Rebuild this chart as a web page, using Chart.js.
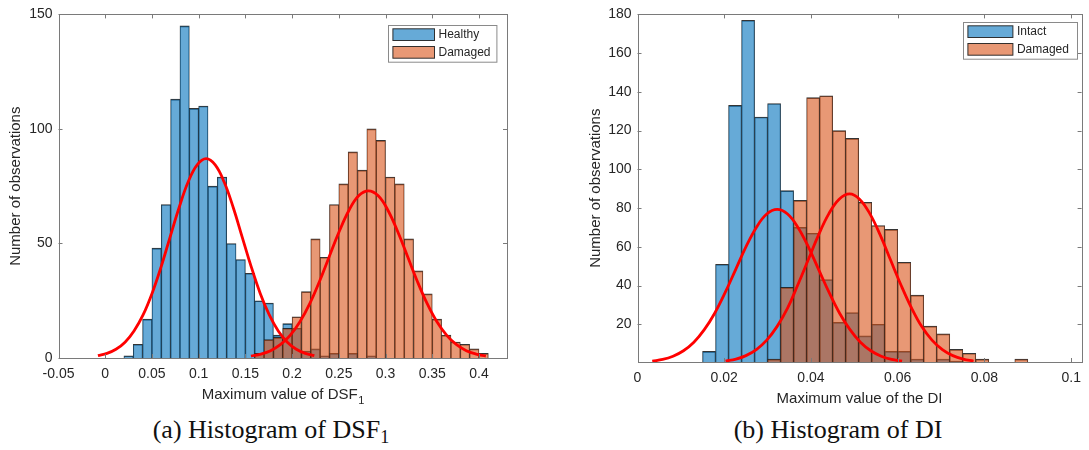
<!DOCTYPE html>
<html><head><meta charset="utf-8">
<script src="https://cdn.jsdelivr.net/npm/chart.js@4.4.1/dist/chart.umd.min.js"></script>
<style>
html,body{margin:0;padding:0;background:#fff;width:1089px;height:450px;overflow:hidden;position:relative;}
#c1{position:absolute;left:0;top:0;}
#c2{position:absolute;left:580px;top:0;}
.cap{position:absolute;top:414px;font-family:"Liberation Serif","Times New Roman",serif;font-size:26px;color:#111;text-align:center;line-height:32px;white-space:nowrap;}
.cap sub{font-size:0.7em;vertical-align:-0.25em;line-height:0;}
</style></head><body>
<canvas id="c1" width="540" height="410"></canvas>
<canvas id="c2" width="509" height="410"></canvas>
<div class="cap" style="left:0;width:542px">(a) Histogram of DSF<sub>1</sub></div>
<div class="cap" style="left:588px;width:500px">(b) Histogram of DI</div>
<script>
// ---------- (a) DSF1 histogram data ----------
const dsfBinCenters = [0.025,0.035,0.045,0.055,0.065,0.075,0.085,0.095,0.105,0.115,0.125,0.135,0.145,0.155,0.165,0.175,0.185,0.195,0.205,0.215,0.225,0.235,0.245,0.255,0.265,0.275,0.285,0.295,0.305,0.315,0.325,0.335,0.345,0.355,0.365,0.375,0.385,0.395,0.405];
const dsfHealthyCounts = [1,6,17,48,67,113,145,109,110,75,79,50,43,37,25,24,10,15,13,3,4,1,2,0,2,0,1,0,0,0,0,0,0,0,0,0,0,0,0];
const dsfDamagedCounts = [0,0,0,0,0,0,0,0,0,0,0,0,0,0,2,8,9,13,18,29,52,44,67,76,90,82,100,95,79,76,52,38,28,17,10,7,6,4,2];
const dsfHealthyFitX = [-0.0078,0.0019,0.0115,0.0212,0.0308,0.0405,0.0501,0.0598,0.0694,0.0791,0.0887,0.0984,0.108,0.1177,0.1273,0.137,0.1466,0.1563,0.1659,0.1756,0.1852,0.1949,0.2045,0.2142,0.2238];
const dsfHealthyFitY = [1.0,2.0,3.8,6.9,11.8,18.8,28.2,39.8,52.8,65.7,76.8,84.3,87,84.3,76.8,65.7,52.8,39.8,28.2,18.8,11.8,6.9,3.8,2.0,1.0];
const dsfDamagedFitX = [0.156,0.1665,0.177,0.1874,0.1979,0.2084,0.2189,0.2293,0.2398,0.2503,0.2608,0.2712,0.2817,0.2922,0.3027,0.3131,0.3236,0.3341,0.3446,0.355,0.3655,0.376,0.3865,0.3969,0.4074];
const dsfDamagedFitY = [0.8,1.7,3.2,5.8,9.9,15.8,23.7,33.4,44.3,55.1,64.4,70.8,73,70.8,64.4,55.1,44.3,33.4,23.7,15.8,9.9,5.8,3.2,1.7,0.8];

// ---------- (b) DI histogram data ----------
const diBinCenters = [0.0165,0.0195,0.0225,0.0255,0.0285,0.0315,0.0345,0.0375,0.0405,0.0435,0.0465,0.0495,0.0525,0.0555,0.0585,0.0615,0.0645,0.0675,0.0705,0.0735,0.0765,0.0795,0.0825,0.0855,0.0885];
const diIntactCounts = [6,51,133,177,127,134,89,70,67,43,21,26,14,20,6,6,2,0,2,1,0,0,0,0,0];
const diDamagedCounts = [0,0,0,0,0,2,39,84,137,138,120,116,83,71,69,52,35,19,15,7,5,2,0,0,2];
const diIntactFitX = [0.0034,0.0058,0.0082,0.0106,0.013,0.0154,0.0178,0.0202,0.0226,0.025,0.0274,0.0298,0.0322,0.0346,0.037,0.0394,0.0418,0.0442,0.0466,0.049,0.0514,0.0538,0.0562,0.0586,0.061];
const diIntactFitY = [0.9,1.8,3.5,6.3,10.7,17.2,25.7,36.3,48.1,59.9,70.0,76.9,79.3,76.9,70.0,59.9,48.1,36.3,25.7,17.2,10.7,6.3,3.5,1.8,0.9];
const diDamagedFitX = [0.0203,0.0227,0.025,0.0274,0.0298,0.0322,0.0346,0.0369,0.0393,0.0417,0.0441,0.0465,0.0489,0.0512,0.0536,0.056,0.0584,0.0608,0.0632,0.0655,0.0679,0.0703,0.0727,0.0751,0.0775];
const diDamagedFitY = [1.0,2.0,3.8,6.9,11.8,18.9,28.3,40.0,52.9,65.9,77.0,84.6,87.3,84.6,77.0,65.9,52.9,40.0,28.3,18.9,11.8,6.9,3.8,2.0,1.0];

// ---------- axis ticks ----------
const dsfXTicks = {min: -0.05, max: 0.43, step: 0.05};
const dsfYTicks = {min: 0, max: 150, step: 50};
const diXTicks = {min: 0, max: 0.1024, step: 0.02};
const diYTicks = {min: 0.5, max: 180, step: 20};

const BLUE = 'rgba(0,114,189,0.6)';
const ORANGE = 'rgba(217,83,25,0.6)';
const EDGE = 'rgba(30,30,30,0.9)';
const AXC = '#262626';
const SANS = '"Liberation Sans", Arial, Helvetica, sans-serif';

const pts = (xs, ys) => xs.map((x, i) => ({x, y: ys[i]}));
const fmt = v => String(Number(Number(v).toFixed(4)));

function barDs(label, centers, counts, color, order) {
  return {type: 'bar', label, data: pts(centers, counts), backgroundColor: color,
    borderColor: EDGE, borderWidth: {top: 1, left: 0.5, right: 0.5, bottom: 0},
    barPercentage: 1, categoryPercentage: 1, grouped: false, order, clip: 0};
}
function fitDs(xs, ys, order) {
  return {type: 'line', label: '_fit', data: pts(xs, ys), borderColor: '#ff0000', borderWidth: 2.8,
    pointRadius: 0, fill: false, tension: 0.4, order};
}

const frameTicks = {
  id: 'frameTicks',
  afterDatasetsDraw(chart) {
    const {ctx, chartArea: a, scales} = chart;
    ctx.save();
    ctx.strokeStyle = '#7a7a7a';
    ctx.lineWidth = 1;
    const L = 4;
    ctx.beginPath();
    scales.x.ticks.forEach(t => {
      const px = Math.round(scales.x.getPixelForValue(t.value)) + 0.5;
      ctx.moveTo(px, a.bottom); ctx.lineTo(px, a.bottom - L);
      ctx.moveTo(px, a.top); ctx.lineTo(px, a.top + L);
    });
    scales.y.ticks.forEach(t => {
      const py = Math.round(scales.y.getPixelForValue(t.value)) + 0.5;
      ctx.moveTo(a.left, py); ctx.lineTo(a.left + L, py);
      ctx.moveTo(a.right, py); ctx.lineTo(a.right - L, py);
    });
    ctx.stroke();
    ctx.strokeRect(Math.round(a.left) + 0.5, Math.round(a.top) + 0.5, Math.round(a.right) - Math.round(a.left), Math.round(a.bottom) - Math.round(a.top));
    ctx.restore();
  }
};

const boxLegend = {
  id: 'boxLegend',
  afterDraw(chart, args, o) {
    const {ctx, chartArea: a} = chart;
    const items = chart.data.datasets.filter(d => d.type === 'bar');
    const bx = Math.round(a.right - o.right - o.width) + 0.5;
    const by = Math.round(a.top + o.top) + 0.5;
    ctx.save();
    ctx.fillStyle = '#fff';
    ctx.fillRect(bx, by, o.width, o.height);
    ctx.strokeStyle = '#8a8a8a';
    ctx.lineWidth = 1;
    ctx.strokeRect(bx, by, o.width, o.height);
    ctx.font = '12px ' + SANS;
    ctx.textBaseline = 'middle';
    ctx.textAlign = 'left';
    items.forEach((d, i) => {
      const sy = by + 3.3 + i * 17.7;
      ctx.fillStyle = d.backgroundColor;
      ctx.fillRect(bx + 4.4, sy, o.swatch, 11.7);
      ctx.strokeStyle = EDGE;
      ctx.strokeRect(bx + 4.4, sy, o.swatch, 11.7);
      ctx.fillStyle = AXC;
      ctx.fillText(d.label, bx + o.swatch + 8.4, sy + 6.2);
    });
    ctx.restore();
  }
};

const xTitle = {
  id: 'xTitle',
  afterDraw(chart, args, o) {
    const {ctx, chartArea: a} = chart;
    ctx.save();
    ctx.fillStyle = AXC;
    ctx.textBaseline = 'alphabetic';
    ctx.textAlign = 'left';
    ctx.font = '15px ' + SANS;
    const w1 = ctx.measureText(o.text).width;
    let w2 = 0;
    if (o.sub) { ctx.font = '11px ' + SANS; w2 = ctx.measureText(o.sub).width; }
    const x0 = (a.left + a.right) / 2 - (w1 + w2) / 2;
    const y = a.bottom + o.offset;
    ctx.font = '15px ' + SANS;
    ctx.fillText(o.text, x0, y);
    if (o.sub) { ctx.font = '11px ' + SANS; ctx.fillText(o.sub, x0 + w1 + 0.5, y + 5); }
    ctx.restore();
  }
};

function makeChart(id, datasets, xt, yt, cfg) {
  return new Chart(document.getElementById(id), {
    data: {datasets},
    options: {
      responsive: false, animation: false, events: [],
      devicePixelRatio: 1,
      layout: {padding: cfg.padding},
      plugins: {
        legend: {display: false}, tooltip: {enabled: false},
        boxLegend: cfg.legend, xTitle: cfg.xTitle
      },
      scales: {
        x: {type: 'linear', min: xt.min, max: xt.max, offset: false,
          grid: {display: false, drawTicks: false, offset: false}, border: {display: false},
          ticks: {stepSize: xt.step, includeBounds: false, autoSkip: false, maxRotation: 0,
            padding: 8, color: AXC, font: {family: SANS, size: 14}, callback: fmt},
          afterFit: s => { s.height = cfg.xHeight; }
        },
        y: {type: 'linear', min: yt.min, max: yt.max,
          grid: {display: false, drawTicks: false}, border: {display: false},
          ticks: {stepSize: yt.step, includeBounds: false, padding: 6, color: AXC,
            font: {family: SANS, size: 14}, callback: fmt},
          title: {display: true, text: 'Number of observations', color: AXC,
            font: {family: SANS, size: 15}, padding: {top: 7, bottom: 0}},
          afterFit: s => { s.width = cfg.yWidth; }
        }
      }
    },
    plugins: [frameTicks, boxLegend, xTitle]
  });
}

makeChart('c1', [
  barDs('Healthy', dsfBinCenters, dsfHealthyCounts, BLUE, 3),
  barDs('Damaged', dsfBinCenters, dsfDamagedCounts, ORANGE, 2),
  fitDs(dsfHealthyFitX, dsfHealthyFitY, 1),
  fitDs(dsfDamagedFitX, dsfDamagedFitY, 0)
], dsfXTicks, dsfYTicks, {
  padding: {left: 0, top: 8, right: 33, bottom: 0}, yWidth: 58.5, xHeight: 52,
  legend: {right: 10.3, top: 11, width: 108.4, height: 36.7, swatch: 41.6},
  xTitle: {text: 'Maximum value of DSF', sub: '1', offset: 40.5}
});

makeChart('c2', [
  barDs('Intact', diBinCenters, diIntactCounts, BLUE, 3),
  barDs('Damaged', diBinCenters, diDamagedCounts, ORANGE, 2),
  fitDs(diIntactFitX, diIntactFitY, 1),
  fitDs(diDamagedFitX, diDamagedFitY, 0)
], diXTicks, diYTicks, {
  padding: {left: 0, top: 9, right: 3.5, bottom: 0}, yWidth: 57.5, xHeight: 48,
  legend: {right: 5, top: 8, width: 114, height: 36.7, swatch: 45},
  xTitle: {text: 'Maximum value of the DI', sub: '', offset: 40.5}
});
</script>
</body></html>
